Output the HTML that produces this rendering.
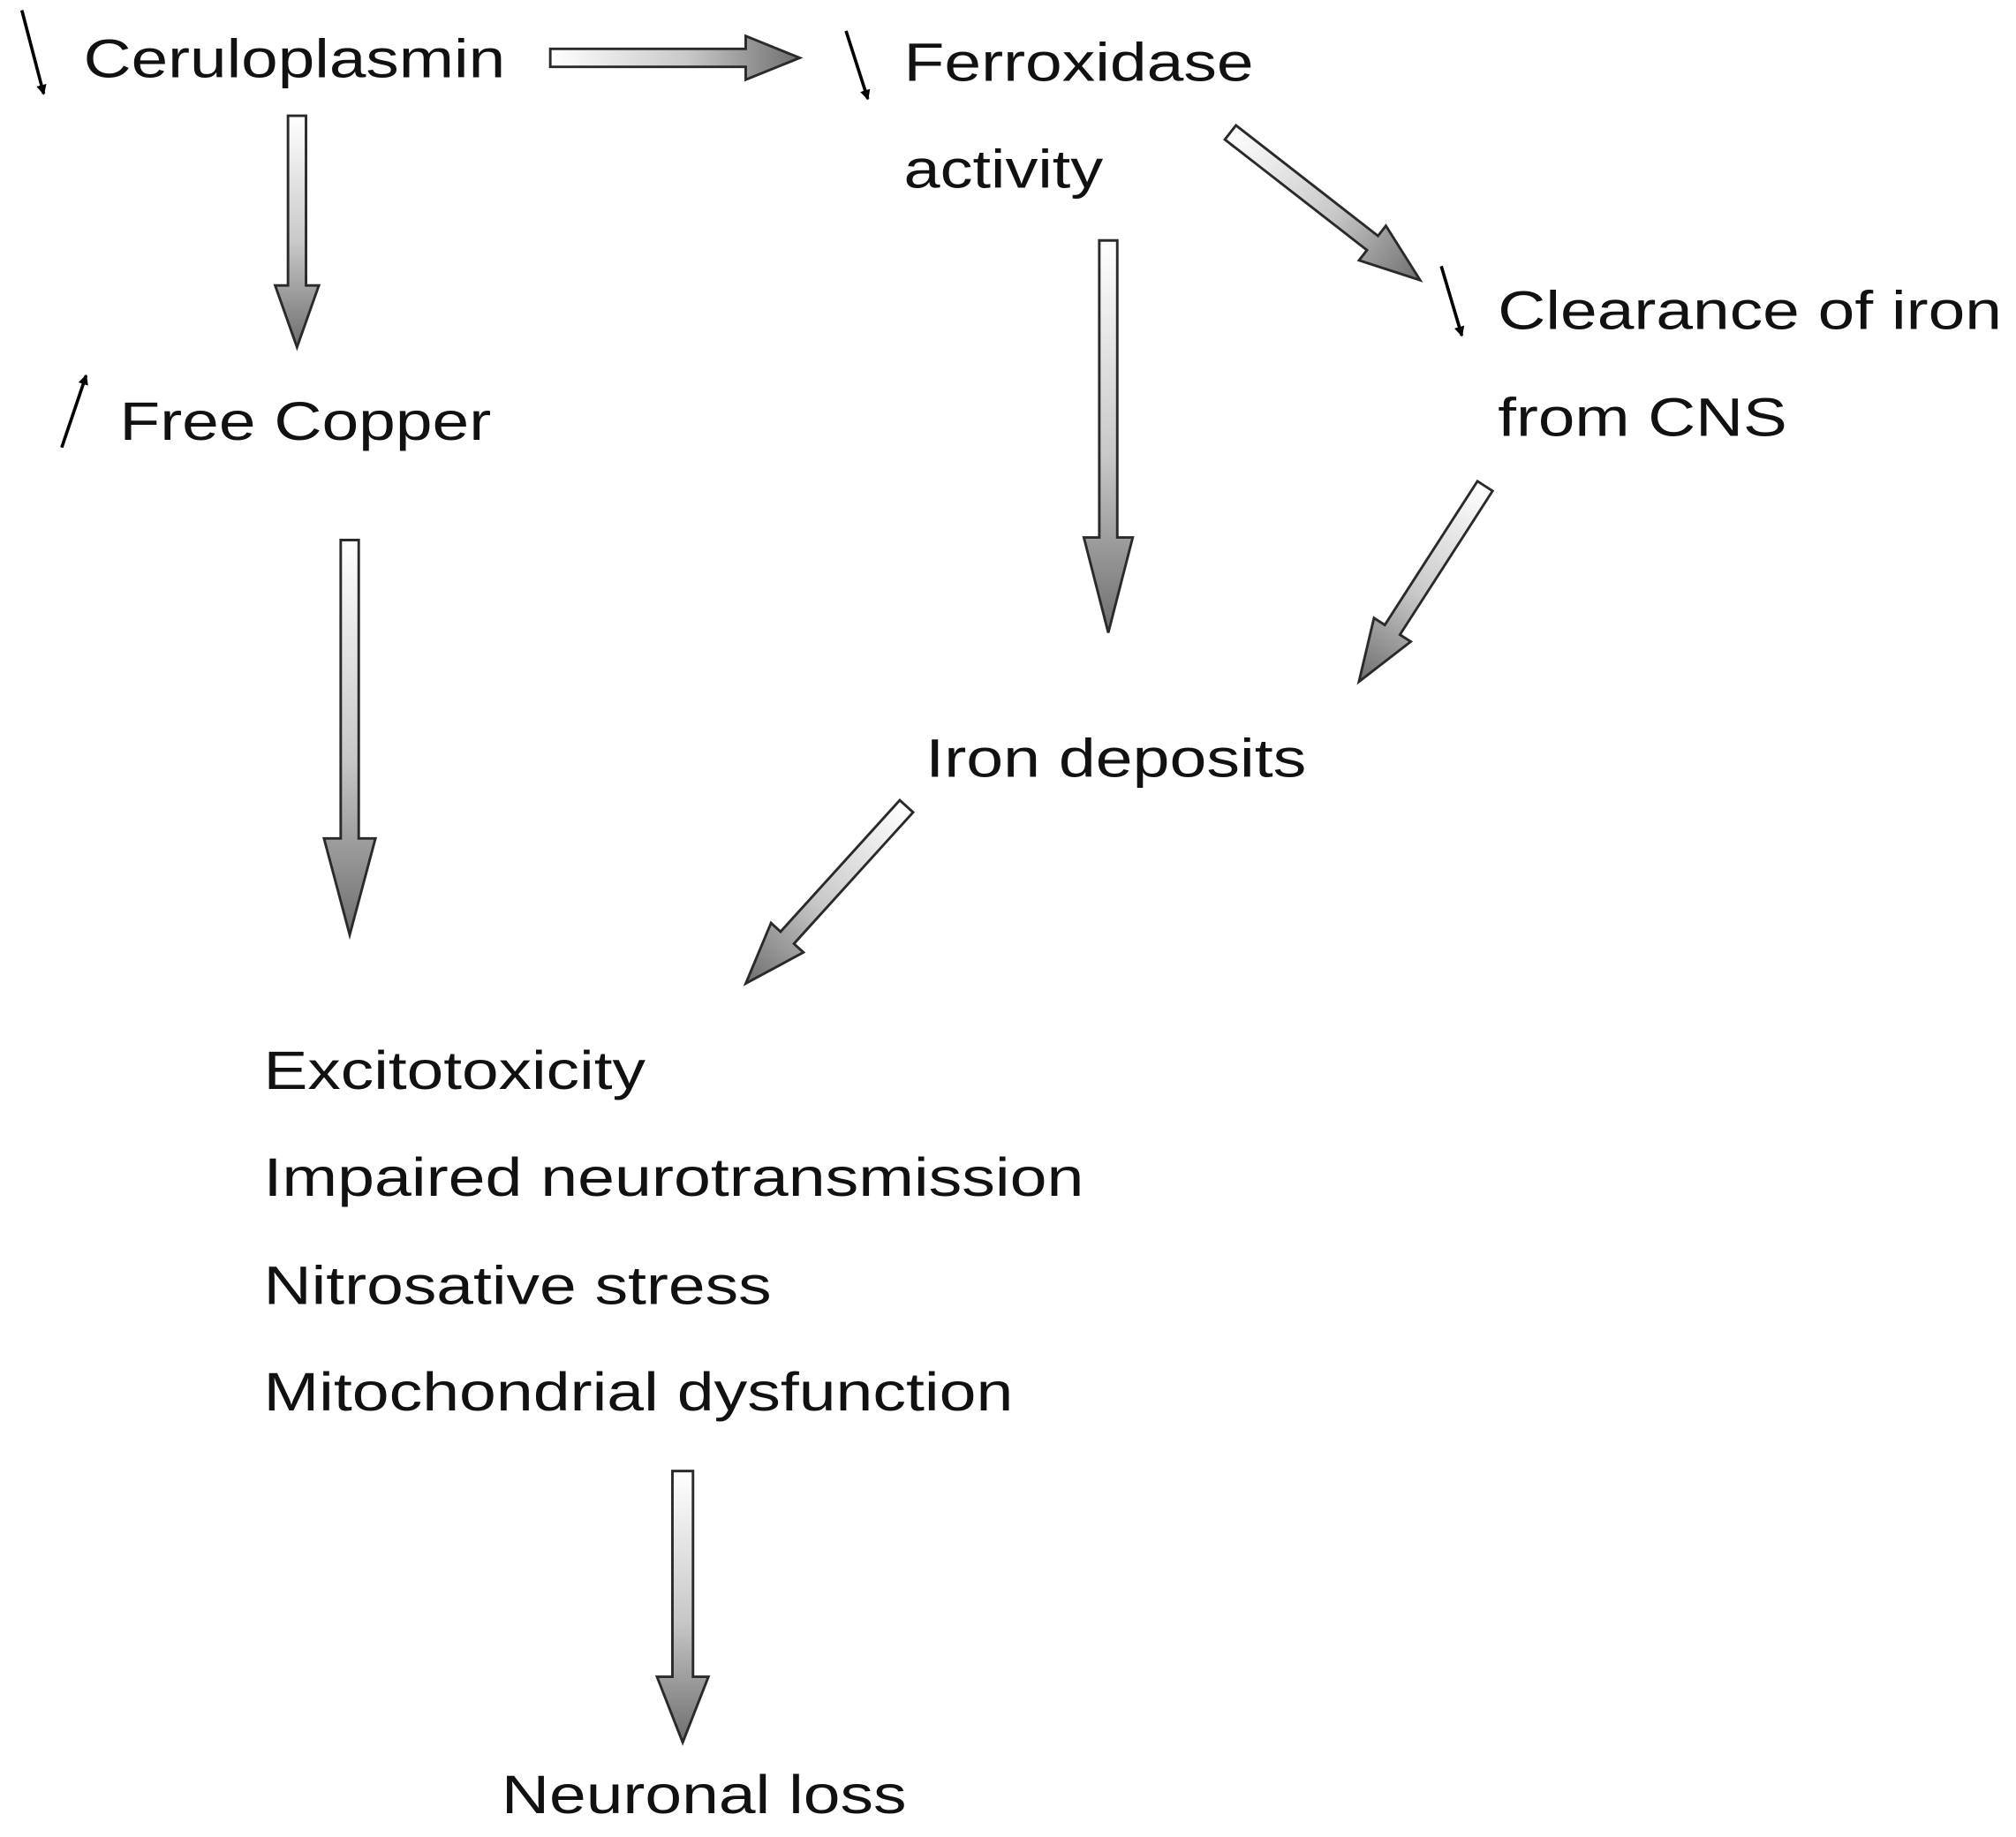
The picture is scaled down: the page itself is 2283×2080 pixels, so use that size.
<!DOCTYPE html>
<html><head><meta charset="utf-8"><style>
html,body{margin:0;padding:0;background:#fff;}
svg{display:block;}
text{font-family:"Liberation Sans",Arial,sans-serif;font-size:42px;fill:#111;}
</style></head><body>
<svg width="2283" height="2080" viewBox="0 0 1568 1428.6" preserveAspectRatio="none" xmlns="http://www.w3.org/2000/svg">
<defs>
<linearGradient id="g" x1="0" y1="0" x2="1" y2="0">
<stop offset="0" stop-color="#ffffff"/><stop offset="0.55" stop-color="#c8c8c8"/><stop offset="1" stop-color="#6e6e6e"/>
</linearGradient>
<marker id="m" markerWidth="8" markerHeight="8" refX="7" refY="4" orient="auto" markerUnits="userSpaceOnUse" viewBox="0 0 8 8"><path d="M0,0 L8,4 L0,8 Z" fill="#000"/></marker>
</defs>
<g fill="url(#g)" stroke="#2a2a2a" stroke-width="2">
<!-- Ceruloplasmin -> Ferroxidase, L=194 -->
<path transform="translate(428,45)" d="M0,-7 L152,-7 L152,-17 L194,0 L152,17 L152,7 L0,7 Z"/>
<!-- down from ceruloplasmin, L=180 -->
<path transform="translate(231,90) rotate(90)" d="M0,-7 L132,-7 L132,-17 L180,0 L132,17 L132,7 L0,7 Z"/>
<!-- free copper down L=307 -->
<path transform="translate(272,420) rotate(90)" d="M0,-7 L232,-7 L232,-20 L307,0 L232,20 L232,7 L0,7 Z"/>
<!-- ferroxidase down L=305 -->
<path transform="translate(862,187) rotate(90)" d="M0,-7 L231,-7 L231,-19 L305,0 L231,19 L231,7 L0,7 Z"/>
<!-- diagonal to clearance -->
<path transform="translate(957,103) rotate(37.9)" d="M0,-7 L140,-7 L140,-17 L187,0 L140,17 L140,7 L0,7 Z"/>
<!-- clearance to iron deposits -->
<path transform="translate(1155,378) rotate(122.8)" d="M0,-7 L133,-7 L133,-17 L181,0 L133,17 L133,7 L0,7 Z"/>
<!-- iron deposits to list -->
<path transform="translate(705,627) rotate(132.2)" d="M0,-7 L138,-7 L138,-17 L186,0 L138,17 L138,7 L0,7 Z"/>
<!-- neuronal loss -->
<path transform="translate(531,1144) rotate(90)" d="M0,-8 L160,-8 L160,-20 L211,0 L160,20 L160,8 L0,8 Z"/>
</g>
<g stroke="#000" stroke-width="2.5" fill="none">
<line x1="17" y1="8" x2="34" y2="73" marker-end="url(#m)"/>
<line x1="658" y1="24" x2="675" y2="77" marker-end="url(#m)"/>
<line x1="1121" y1="207" x2="1137" y2="261" marker-end="url(#m)"/>
<line x1="48" y1="348" x2="67" y2="292" marker-end="url(#m)"/>
</g>
<text x="65" y="60" textLength="328" lengthAdjust="spacingAndGlyphs">Ceruloplasmin</text>
<text x="703" y="63" textLength="272" lengthAdjust="spacingAndGlyphs">Ferroxidase</text>
<text x="703" y="146" textLength="155" lengthAdjust="spacingAndGlyphs">activity</text>
<text x="1165" y="256" textLength="392" lengthAdjust="spacingAndGlyphs">Clearance of iron</text>
<text x="1165" y="339" textLength="225" lengthAdjust="spacingAndGlyphs">from CNS</text>
<text x="93" y="342" textLength="289" lengthAdjust="spacingAndGlyphs">Free Copper</text>
<text x="720" y="604" textLength="296" lengthAdjust="spacingAndGlyphs">Iron deposits</text>
<text x="205" y="847" textLength="297" lengthAdjust="spacingAndGlyphs">Excitotoxicity</text>
<text x="205" y="930" textLength="638" lengthAdjust="spacingAndGlyphs">Impaired neurotransmission</text>
<text x="205" y="1014" textLength="395" lengthAdjust="spacingAndGlyphs">Nitrosative stress</text>
<text x="205" y="1097" textLength="583" lengthAdjust="spacingAndGlyphs">Mitochondrial dysfunction</text>
<text x="390" y="1410" textLength="315" lengthAdjust="spacingAndGlyphs">Neuronal loss</text>
</svg>
</body></html>
